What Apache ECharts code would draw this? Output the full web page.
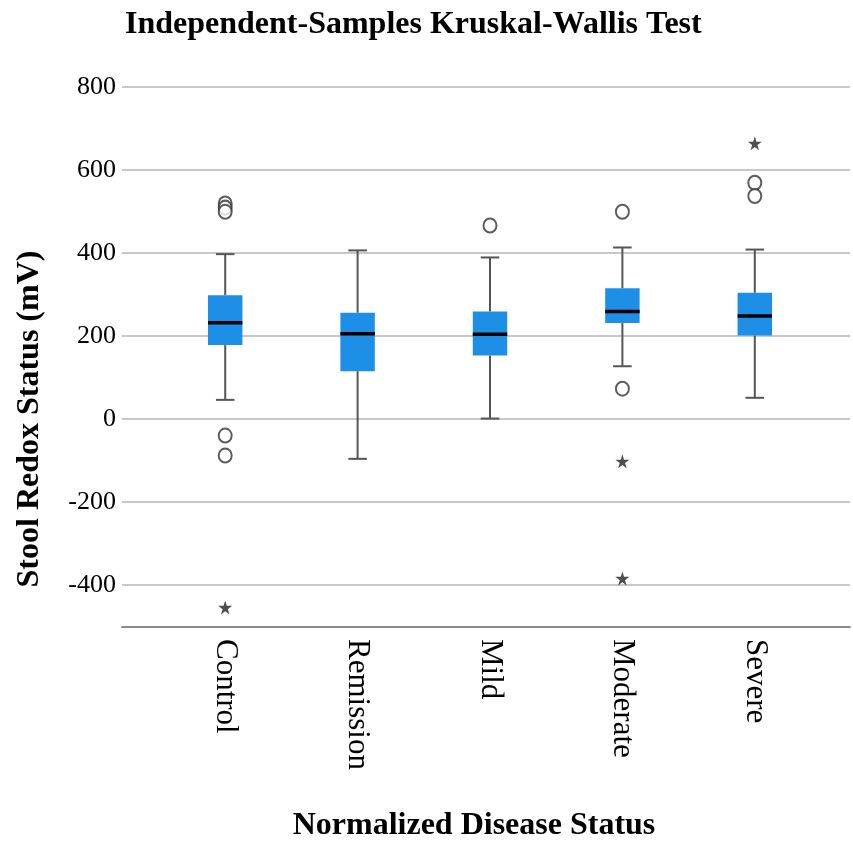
<!DOCTYPE html>
<html>
<head>
<meta charset="utf-8">
<script src="https://cdn.jsdelivr.net/npm/echarts@6/dist/echarts.min.js"></script>
<style>
  html, body { margin: 0; padding: 0; background: #fff; }
  #chart { width: 853px; height: 842px; }
</style>
</head>
<body>
<div id="chart"></div>
<script>
const CATEGORIES = ['Control', 'Remission', 'Mild', 'Moderate', 'Severe'];
// [min whisker, Q1, median, Q3, max whisker]
const BOX_STATS = [
  [47, 179, 233, 299, 398],
  [-95, 116, 206, 257, 407],
  [2, 154, 205, 260, 390],
  [128, 232, 260, 316, 414],
  [52, 202, 249, 305, 409],
];
// [category index, value]
const OUTLIERS = [
  [0, 520], [0, 510], [0, 500], [0, -39], [0, -87],
  [2, 467],
  [3, 500], [3, 74],
  [4, 570], [4, 538],
];
const EXTREMES = [
  [0, -453],
  [3, -101], [3, -383],
  [4, 665],
];

const FONT = '"Liberation Serif", "Times New Roman", serif';
const STAR = 'path://M50,0 L61,35 L98,35 L68,57 L79,91 L50,70 L21,91 L32,57 L2,35 L39,35 Z';

const chart = echarts.init(document.getElementById('chart'), null, { renderer: 'canvas' });

const boxData = BOX_STATS.map((s, i) => [i, ...s]);

chart.setOption({
  animation: false,
  backgroundColor: '#fff',
  title: {
    text: 'Independent-Samples Kruskal-Wallis Test',
    left: 120, top: 4,
    textStyle: { fontFamily: FONT, fontSize: 32, fontWeight: 'bold', color: '#000' },
  },
  grid: [
    // gridlines + tick labels (-400..800)
    { left: 122, right: 3, top: 87, bottom: 257 },
    // boxes
    { left: 159, right: 32, top: 54, bottom: 215 },
    // bottom axis line
    { left: 122, right: 3, top: 54, bottom: 215 },
  ],
  xAxis: [
    {
      gridIndex: 0, type: 'value', min: 0, max: 1, show: false,
    },
    {
      gridIndex: 1, type: 'category', data: CATEGORIES,
      axisLine: { show: false }, axisTick: { show: false },
      axisLabel: {
        rotate: -90, margin: 12, color: '#000',
        fontFamily: FONT, fontSize: 31,
      },
    },
    {
      gridIndex: 2, type: 'value', min: 0, max: 1,
      axisLine: { show: true, onZero: false, lineStyle: { color: '#8a8a8a', width: 2 } },
      axisTick: { show: false }, axisLabel: { show: false }, splitLine: { show: false },
    },
  ],
  yAxis: [
    {
      gridIndex: 0, type: 'value', min: -400, max: 800, interval: 200,
      axisLine: { show: false }, axisTick: { show: false },
      axisLabel: { margin: 6, color: '#000', fontFamily: FONT, fontSize: 26 },
      splitLine: { lineStyle: { color: '#c8c8c8', width: 2 } },
    },
    {
      gridIndex: 1, type: 'value', min: -500, max: 880, show: false,
    },
    {
      gridIndex: 2, type: 'value', min: -500, max: 880, show: false,
    },
  ],
  graphic: [
    {
      type: 'text', x: 14, y: 419, rotation: Math.PI / 2,
      style: {
        text: 'Stool Redox Status (mV)', font: 'bold 32px ' + FONT, fill: '#000',
        align: 'center', verticalAlign: 'top',
      },
    },
    {
      type: 'text', x: 474, y: 826,
      style: {
        text: 'Normalized Disease Status', font: 'bold 32px ' + FONT, fill: '#000',
        align: 'center', verticalAlign: 'middle',
      },
    },
  ],
  series: [
    {
      type: 'custom',
      xAxisIndex: 1, yAxisIndex: 1,
      data: boxData,
      encode: { x: 0, y: [1, 2, 3, 4, 5] },
      renderItem: (params, api) => {
        const idx = api.value(0);
        const lo = api.coord([idx, api.value(1)]);
        const q1 = api.coord([idx, api.value(2)]);
        const med = api.coord([idx, api.value(3)]);
        const q3 = api.coord([idx, api.value(4)]);
        const hi = api.coord([idx, api.value(5)]);
        const band = api.size([1, 0])[0];
        const bw = band * 0.26;
        const cw = band * 0.14;
        const x = lo[0];
        const wStyle = { stroke: '#555', lineWidth: 2 };
        return {
          type: 'group',
          children: [
            { type: 'line', shape: { x1: x, y1: q3[1], x2: x, y2: hi[1] }, style: wStyle },
            { type: 'line', shape: { x1: x, y1: q1[1], x2: x, y2: lo[1] }, style: wStyle },
            { type: 'line', shape: { x1: x - cw / 2, y1: hi[1], x2: x + cw / 2, y2: hi[1] }, style: wStyle },
            { type: 'line', shape: { x1: x - cw / 2, y1: lo[1], x2: x + cw / 2, y2: lo[1] }, style: wStyle },
            {
              type: 'rect',
              shape: { x: x - bw / 2, y: q3[1], width: bw, height: q1[1] - q3[1] },
              style: { fill: '#1e8fe6' },
            },
            {
              type: 'line',
              shape: { x1: x - bw / 2, y1: med[1], x2: x + bw / 2, y2: med[1] },
              style: { stroke: '#000', lineWidth: 3.5 },
            },
          ],
        };
      },
    },
    {
      type: 'scatter',
      xAxisIndex: 1, yAxisIndex: 1,
      data: OUTLIERS,
      symbol: 'emptyCircle',
      symbolSize: [13, 14],
      itemStyle: { color: '#333', borderColor: '#333', borderWidth: 1.6 },
    },
    {
      type: 'scatter',
      xAxisIndex: 1, yAxisIndex: 1,
      data: EXTREMES,
      symbol: STAR,
      symbolSize: 14,
      itemStyle: { color: '#222' },
    },
  ],
});
</script>
</body>
</html>
